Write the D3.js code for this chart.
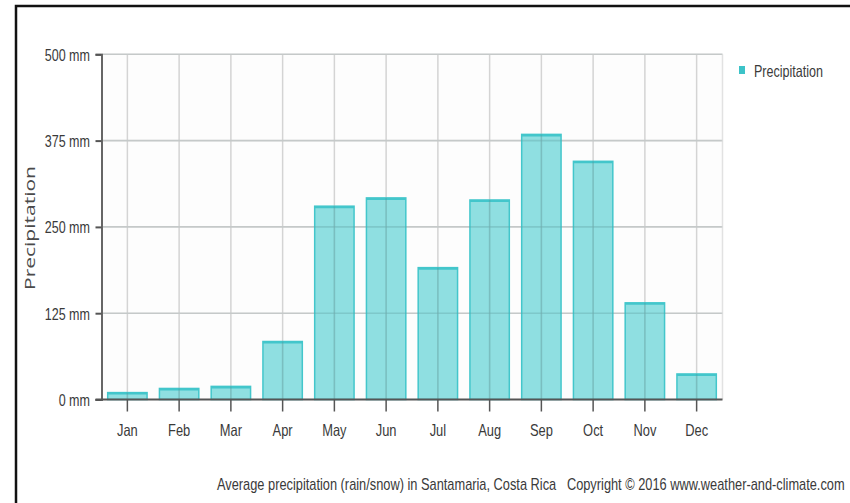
<!DOCTYPE html>
<html><head><meta charset="utf-8">
<script src="https://cdn.jsdelivr.net/npm/d3@7"></script>
<style>
body{margin:0;background:#fff;}
svg{display:block;}
text{font-family:"Liberation Sans Narrow","Liberation Sans",Arial,sans-serif;}
</style></head><body>
<svg id="c" width="850" height="503"></svg>
<script>
const months = ["Jan","Feb","Mar","Apr","May","Jun","Jul","Aug","Sep","Oct","Nov","Dec"];
const precipitation = [10, 16, 19, 84, 280, 292, 191, 289, 384, 345, 140, 37];
const yTicks = [0, 125, 250, 375, 500];
const seriesName = "Precipitation";
const caption = "Average precipitation (rain/snow) in Santamaria, Costa Rica   Copyright © 2016 www.weather-and-climate.com";

const svg = d3.select("#c");
const m = {l:101.5, r:722.5, t:54.3, b:399.5};
function narrow(sel, f){ sel.each(function(){ const w=this.getComputedTextLength(); d3.select(this).attr("textLength", w*f).attr("lengthAdjust","spacingAndGlyphs"); }); }

// frame
svg.append("path").attr("d","M16,503 V6 H850").attr("fill","none").attr("stroke","#111").attr("stroke-width",2.5);

const x = d3.scaleBand().domain(months).range([m.l, m.r]).paddingInner(0.21).paddingOuter(0.105);
const y = d3.scaleLinear().domain([0,500]).range([m.b, m.t]);

svg.append("rect").attr("x",m.l).attr("y",m.t).attr("width",m.r-m.l).attr("height",m.b-m.t).attr("fill","#fdfdfd");

// grid
const g = svg.append("g");
g.selectAll("line.h").data(yTicks.filter(d=>d>0)).join("line")
  .attr("x1",m.l).attr("x2",m.r).attr("y1",d=>y(d)).attr("y2",d=>y(d))
  .attr("stroke","#d4d4d4").attr("stroke-width",1.6);
g.selectAll("line.v").data(months).join("line")
  .attr("x1",d=>x(d)+x.bandwidth()/2).attr("x2",d=>x(d)+x.bandwidth()/2)
  .attr("y1",m.t).attr("y2",m.b).attr("stroke","#d4d4d4").attr("stroke-width",1.5);
g.append("line").attr("x1",m.r).attr("x2",m.r).attr("y1",m.t).attr("y2",m.b).attr("stroke","#e2e2e2").attr("stroke-width",1.5);

// bars
const bars = svg.append("g");
bars.selectAll("rect").data(precipitation).join("rect")
  .attr("x",(d,i)=>x(months[i])+0.75).attr("width",x.bandwidth()-1.5)
  .attr("y",d=>y(d)).attr("height",d=>m.b-y(d))
  .attr("fill","rgba(100,210,214,0.72)").attr("stroke","#43c6cb").attr("stroke-width",1.5);
bars.selectAll("line").data(precipitation).join("line")
  .attr("x1",(d,i)=>x(months[i])+0.75).attr("x2",(d,i)=>x(months[i])+x.bandwidth()-0.75)
  .attr("y1",d=>y(d)+1).attr("y2",d=>y(d)+1).attr("stroke","#43c6cb").attr("stroke-width",2);

// grid showing through bars
svg.append("g").selectAll("line").data(months).join("line")
  .attr("x1",d=>x(d)+x.bandwidth()/2).attr("x2",d=>x(d)+x.bandwidth()/2)
  .attr("y1",(d,i)=>y(precipitation[i])).attr("y2",m.b)
  .attr("stroke","rgba(90,120,120,0.22)").attr("stroke-width",1.5);
svg.append("g").selectAll("line").data(yTicks.filter(d=>d>0)).join("line")
  .attr("x1",m.l).attr("x2",m.r).attr("y1",d=>y(d)).attr("y2",d=>y(d))
  .attr("stroke","rgba(90,120,120,0.12)").attr("stroke-width",1.6);

// axes
const yAxis = d3.axisLeft(y).tickValues(yTicks).tickFormat(d=>d+" mm").tickSizeOuter(0).tickSize(6).tickPadding(5.5);
const ya = svg.append("g").attr("transform",`translate(${m.l},0)`).call(yAxis);
ya.select(".domain").attr("stroke","#666").attr("stroke-width",2);
ya.selectAll(".tick line").attr("stroke","#555").attr("stroke-width",2);
ya.selectAll("text").attr("fill","#3a3a3a").attr("font-size",16.5).attr("font-family",null).attr("dy","0.36em");
narrow(ya.selectAll("text"), 0.76);

const xAxis = d3.axisBottom(x).tickSizeOuter(0).tickSize(12).tickPadding(13);
const xa = svg.append("g").attr("transform",`translate(0,${m.b})`).call(xAxis);
xa.select(".domain").attr("stroke","#555").attr("stroke-width",2).attr("d",`M${m.l-6},0H${m.r}`);
xa.selectAll(".tick line").attr("stroke","#555").attr("stroke-width",1.5);
xa.selectAll("text").attr("fill","#3a3a3a").attr("font-size",16.5).attr("font-family",null);
narrow(xa.selectAll("text"), 0.78);

// y title
svg.append("text").attr("transform","translate(35,228) rotate(-90)").attr("text-anchor","middle")
  .attr("font-size",15).attr("fill","#4a4a4a")
  .style("font-family","'Open Sans','DejaVu Sans',sans-serif")
  .attr("textLength",124).attr("lengthAdjust","spacingAndGlyphs").text(seriesName);

// legend
svg.append("rect").attr("x",739).attr("y",66).attr("width",6).attr("height",8).attr("fill","#3cc3c8");
const lt = svg.append("text").attr("x",754).attr("y",76.5).attr("font-size",16.5).attr("fill","#3a3a3a").text(seriesName);
narrow(lt, 0.76);

// caption (horizontally condensed via transform so its box stays inside the page)
const cap = svg.append("text").attr("x",0).attr("y",0).attr("font-size",16).attr("fill","#3a3a3a")
  .attr("xml:space","preserve").style("white-space","pre").text(caption);
const cw = cap.node().getComputedTextLength();
cap.attr("transform",`translate(217,490) scale(${628/cw},1)`);
</script></body></html>
